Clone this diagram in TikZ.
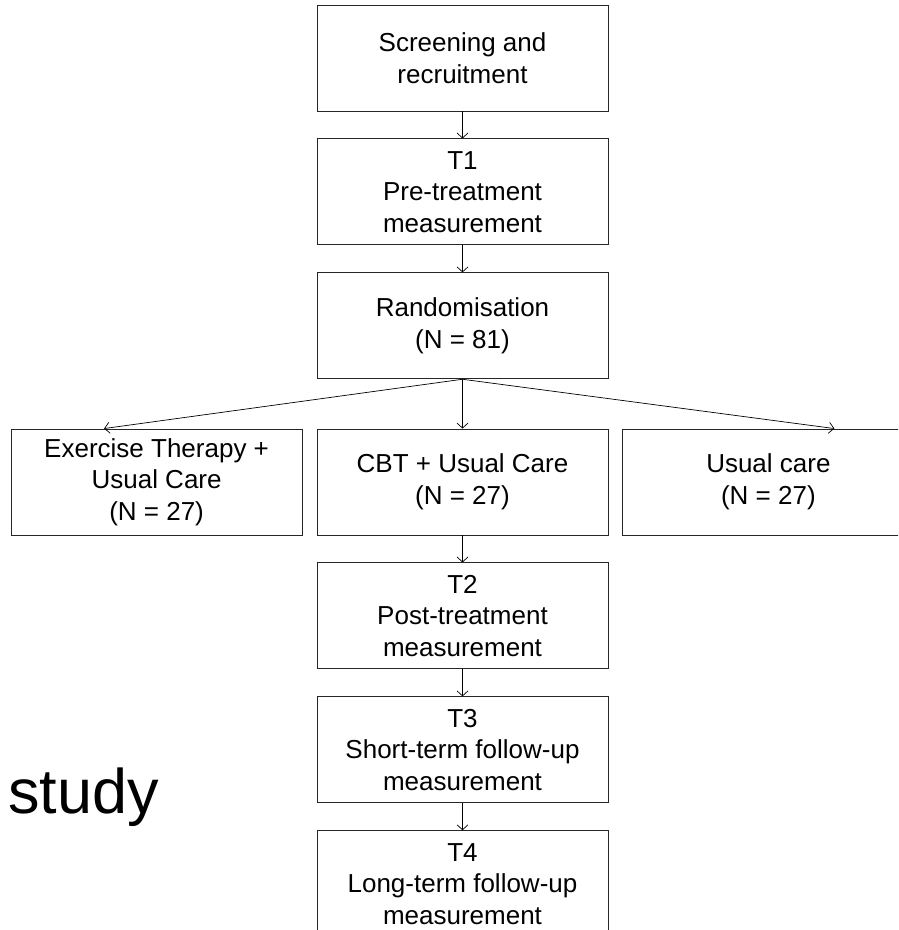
\documentclass[tikz,border=0pt]{standalone}
\usepackage{fontspec}
\setmainfont{Liberation Sans}
\usetikzlibrary{arrows.meta,positioning}

\tikzset{
  stage/.style={draw=black!85,line width=0.9pt,minimum width=291pt,minimum height=106pt,
    align=center,inner sep=0pt,font=\fontsize{26}{31.5}\selectfont},
  flow/.style={-{Straight Barb[length=5pt,width=11pt]},line width=0.7pt}
}

\begin{document}
\begin{tikzpicture}[x=1pt,y=-1pt,node distance=27pt]
    \useasboundingbox (0,0) rectangle (898,930);
    \clip (0,0) rectangle (898,930);

    % main column
    \node[stage] (scr) at (462.5,58) {Screening and\\recruitment};
    \node[stage,below=of scr] (t1) {T1\\Pre-treatment\\measurement};
    \node[stage,below=of t1] (rand) {Randomisation\\(N = 81)};

    % the three arms
    \node[stage] (cbt) at (462.5,482) {CBT + Usual Care\\(N = 27)};
    \node[stage,left=14pt of cbt] (ex) {Exercise Therapy +\\Usual Care\\(N = 27)};
    \node[stage,right=14pt of cbt] (uc) {Usual care\\(N = 27)};

    % follow-up
    \node[stage,below=of cbt] (t2) {T2\\Post-treatment\\measurement};
    \node[stage,below=of t2] (t3) {T3\\Short-term follow-up\\measurement};
    \node[stage,below=of t3] (t4) {T4\\Long-term follow-up\\measurement};

    \node[anchor=base west,inner sep=0pt,font=\fontsize{63}{70}\selectfont] (study) at (8,813) {study};

    \draw[flow](scr)--(t1);
    \draw[flow](t1)--(rand);
    \draw[flow](rand.south)--([xshift=-52.5pt]ex.north);
    \draw[flow](rand.south)--(cbt.north);
    \draw[flow](rand.south)--([xshift=66pt]uc.north);
    \draw[flow](cbt)--(t2);
    \draw[flow](t2)--(t3);
    \draw[flow](t3)--(t4);
\end{tikzpicture}
\end{document}
